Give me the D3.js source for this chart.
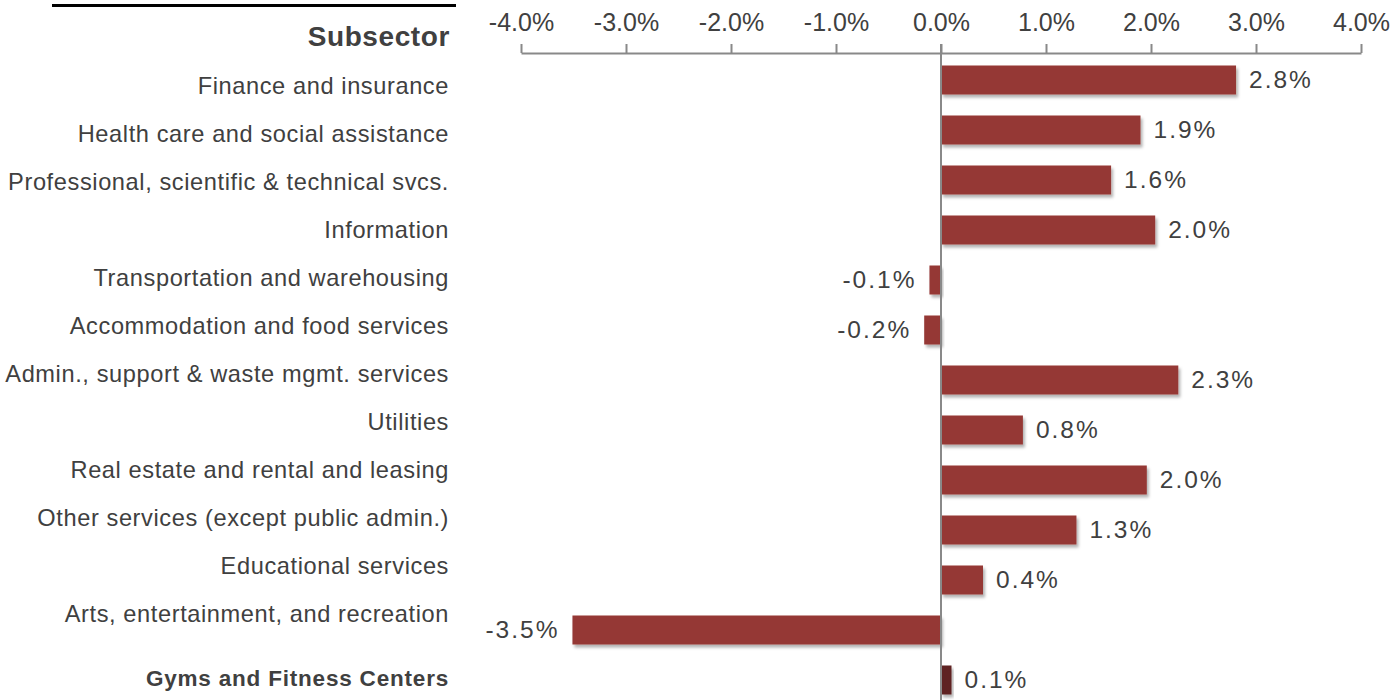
<!DOCTYPE html>
<html>
<head>
<meta charset="utf-8">
<script src="https://cdn.jsdelivr.net/npm/d3@7"></script>
<style>
  html, body { margin: 0; padding: 0; background: #fff; overflow: hidden; }
  svg { display: block; }
  text { font-family: "Liberation Sans", Arial, sans-serif; fill: #404040; }
</style>
</head>
<body>
<svg id="chart" width="1398" height="700"></svg>
<script>
const categories = [
  "Finance and insurance",
  "Health care and social assistance",
  "Professional, scientific & technical svcs.",
  "Information",
  "Transportation and warehousing",
  "Accommodation and food services",
  "Admin., support & waste mgmt. services",
  "Utilities",
  "Real estate and rental and leasing",
  "Other services (except public admin.)",
  "Educational services",
  "Arts, entertainment, and recreation"
];
const values = [2.81, 1.9, 1.62, 2.04, -0.11, -0.16, 2.26, 0.78, 1.96, 1.29, 0.4, -3.51];
const highlightCategory = "Gyms and Fitness Centers";
const highlightValue = 0.1;
const tickValues = [-4, -3, -2, -1, 0, 1, 2, 3, 4];
const headerLabel = "Subsector";

const allCats = categories.concat([highlightCategory]);
const allVals = values.concat([highlightValue]);
const fmt = v => d3.format(".1f")(v).replace("\u2212", "-");

const svg = d3.select("#chart");
const defs = svg.append("defs");
const f = defs.append("filter").attr("id", "shadow").attr("x", "-10%").attr("y", "-30%").attr("width", "130%").attr("height", "180%");
f.append("feDropShadow").attr("dx", 2).attr("dy", 3).attr("stdDeviation", 1.6).attr("flood-color", "#000").attr("flood-opacity", 0.3);

const x = d3.scaleLinear().domain([-4, 4]).range([521, 1361]);
const yBar = d3.scaleBand().domain(allCats).range([55, 705]).paddingInner(0.42).paddingOuter(0.21);
const yLabel = d3.scalePoint().domain(categories).range([86, 614]);

// top rule
svg.append("line").attr("x1", 52).attr("x2", 456).attr("y1", 5.5).attr("y2", 5.5)
  .attr("stroke", "#000").attr("stroke-width", 3);

// header
svg.append("text").attr("x", 450).attr("y", 46).attr("text-anchor", "end")
  .attr("font-size", 28).attr("letter-spacing", 0.6).attr("font-weight", "bold").text(headerLabel);

// category labels
svg.append("g").selectAll("text").data(categories).join("text")
  .attr("x", 449).attr("y", d => yLabel(d)).attr("dy", "0.35em")
  .attr("text-anchor", "end").attr("font-size", 23.6).attr("letter-spacing", 0.6).text(d => d);

svg.append("text").attr("x", 449).attr("y", yBar(highlightCategory) + yBar.bandwidth() / 2 - 2)
  .attr("dy", "0.35em").attr("text-anchor", "end").attr("font-size", 22.5)
  .attr("letter-spacing", 0.8).attr("font-weight", "bold").text(highlightCategory);

// axis
const axis = d3.axisTop(x).tickValues(tickValues).tickFormat(d => fmt(d) + "%")
  .tickSize(9).tickSizeOuter(0).tickPadding(13);
const gAxis = svg.append("g").attr("transform", "translate(0,53)").call(axis);
gAxis.select(".domain").attr("stroke", "#898989").attr("stroke-width", 2);
gAxis.selectAll(".tick line").attr("stroke", "#898989").attr("stroke-width", 2);
gAxis.selectAll(".tick text").attr("font-size", 25).attr("fill", "#404040")
  .style("font-family", "'Liberation Sans', Arial, sans-serif");

// bars
svg.append("g").selectAll("rect").data(allCats).join("rect")
  .attr("x", (d, i) => Math.min(x(0), x(allVals[i])))
  .attr("y", d => yBar(d))
  .attr("width", (d, i) => Math.abs(x(allVals[i]) - x(0)))
  .attr("height", yBar.bandwidth())
  .attr("fill", d => d === highlightCategory ? "#5f2324" : "#953735")
  .attr("filter", "url(#shadow)");

// zero line
svg.append("line").attr("x1", x(0)).attr("x2", x(0)).attr("y1", 44).attr("y2", 700)
  .attr("stroke", "#898989").attr("stroke-width", 2);

// value labels
svg.append("g").selectAll("text").data(allCats).join("text")
  .attr("x", (d, i) => allVals[i] >= 0 ? x(allVals[i]) + 13 : x(allVals[i]) - 13)
  .attr("y", d => yBar(d) + yBar.bandwidth() / 2 - 0.5)
  .attr("dy", "0.35em")
  .attr("text-anchor", (d, i) => allVals[i] >= 0 ? "start" : "end")
  .attr("font-size", 24.5).attr("letter-spacing", 2)
  .text((d, i) => fmt(allVals[i]) + "%");
</script>
</body>
</html>
